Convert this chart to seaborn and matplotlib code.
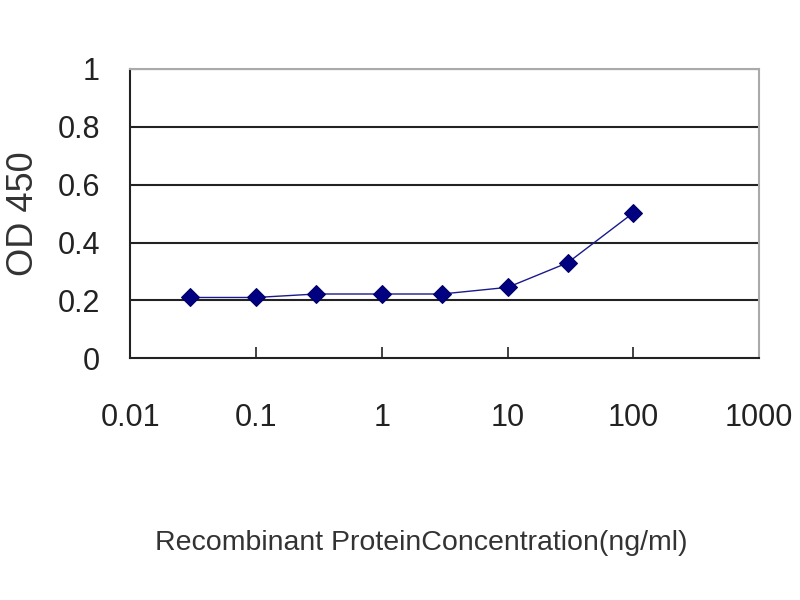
import matplotlib
matplotlib.use("Agg")
import matplotlib.pyplot as plt
import seaborn as sns
import pandas as pd
from matplotlib.ticker import FixedLocator, FixedFormatter, NullLocator

# concentration (ng/ml) and OD 450 readings
conc = [0.03, 0.1, 0.3, 1, 3, 10, 30, 100]
od450 = [0.21, 0.21, 0.222, 0.222, 0.222, 0.245, 0.33, 0.503]

x_ticks = [0.01, 0.1, 1, 10, 100, 1000]
x_labels = ["0.01", "0.1", "1", "10", "100", "1000"]
y_ticks = [0, 0.2, 0.4, 0.6, 0.8, 1]
y_labels = ["0", "0.2", "0.4", "0.6", "0.8", "1"]

df = pd.DataFrame({"conc": conc, "od": od450})

sns.set_style("white")
plt.rcParams["font.family"] = ["Liberation Sans", "DejaVu Sans"]

fig = plt.figure(figsize=(8, 6), dpi=100)
ax = fig.add_axes([0.163, 0.403, 0.786, 0.482])

for y in y_ticks[1:]:
    ax.axhline(y, color="#222222", lw=1.5, zorder=1)

sns.lineplot(data=df, x="conc", y="od", ax=ax, color="#1a1a8c", lw=1,
             marker="D", markersize=9, markeredgecolor="#000066",
             markerfacecolor="#000080", zorder=3)

ax.set_xscale("log")
ax.set_xlim(0.01, 1000)
ax.set_ylim(0, 1)

ax.xaxis.set_major_locator(FixedLocator(x_ticks))
ax.xaxis.set_major_formatter(FixedFormatter(x_labels))
ax.xaxis.set_minor_locator(NullLocator())
ax.yaxis.set_major_locator(FixedLocator(y_ticks))
ax.yaxis.set_major_formatter(FixedFormatter(y_labels))

ax.tick_params(axis="x", direction="in", length=8, width=1.2, pad=32,
               labelsize=22, colors="#222222", bottom=True)
ax.tick_params(axis="y", length=0, pad=22, labelsize=22, colors="#222222")

for side in ["left", "bottom"]:
    ax.spines[side].set_color("#222222")
    ax.spines[side].set_linewidth(1.5)
for side in ["top", "right"]:
    ax.spines[side].set_color("#aaaaaa")
    ax.spines[side].set_linewidth(1.5)

ax.set_ylabel("OD 450", fontsize=26, color="#333333")
ax.yaxis.set_label_coords(-0.142, 0.5)
ax.set_xlabel("Recombinant ProteinConcentration(ng/ml)", fontsize=20.5,
              color="#333333")
ax.xaxis.set_label_coords(0.463, -0.595)

fig.savefig("out.png", dpi=100)
